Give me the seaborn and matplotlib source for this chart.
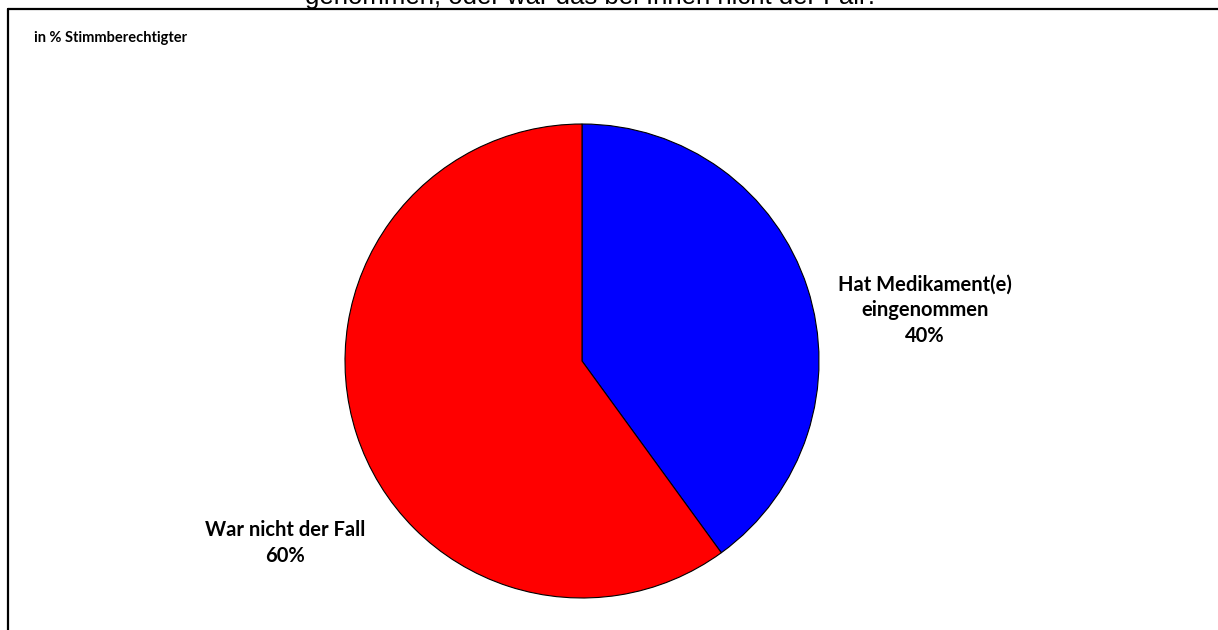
import matplotlib
matplotlib.use("Agg")
import matplotlib.pyplot as plt
import seaborn as sns
from matplotlib.lines import Line2D

categories = ["Hat Medikament(e)\neingenommen", "War nicht der Fall"]
values = [40, 60]
colors = ["#0000FF", "#FF0000"]
title_tail = "genommen, oder war das bei Ihnen nicht der Fall?"
subtitle = "in % Stimmberechtigter"

sns.set_style("white")
plt.rcParams['font.family'] = ['Lato', 'DejaVu Sans']
plt.rcParams['text.color'] = 'black'

W, H = 1218, 630
fig = plt.figure(figsize=(W / 100, H / 100), dpi=100)

# frame (only left and top edges visible in the crop)
fig.add_artist(Line2D([8 / W, 8 / W], [0, 1 - 9 / H], color="black", lw=1.6, transform=fig.transFigure))
fig.add_artist(Line2D([8 / W, 1], [1 - 9 / H, 1 - 9 / H], color="black", lw=1.6, transform=fig.transFigure))

# cut-off title line at the top, as in the source
fig.text(592 / W, 1 - 4 / H, title_tail, ha="center", va="baseline",
         fontsize=18.5, family=["Liberation Sans", "DejaVu Sans"])
fig.text(34 / W, 1 - 38 / H, subtitle, ha="left", va="center",
         fontsize=10.5, fontweight="bold")

# pie axes
cx, cy, r = 582, 361, 237
ax = fig.add_axes([(cx - r) / W, 1 - (cy + r) / H, 2 * r / W, 2 * r / H])
wedges, _ = ax.pie(values, colors=colors, startangle=90, counterclock=False,
                   wedgeprops=dict(edgecolor="black", linewidth=0.8))
ax.set_xlim(-1, 1)
ax.set_ylim(-1, 1)
ax.set_aspect("equal")
ax.axis("off")

label_px = [(925, 310), (285, 543)]
for cat, val, (px, py) in zip(categories, values, label_px):
    ax.text((px - cx) / r, (cy - py) / r, f"{cat}\n{val}%", ha="center", va="center",
            fontsize=14.5, fontweight="bold", linespacing=1.35, clip_on=False)

fig.savefig("out.png", dpi=100)
